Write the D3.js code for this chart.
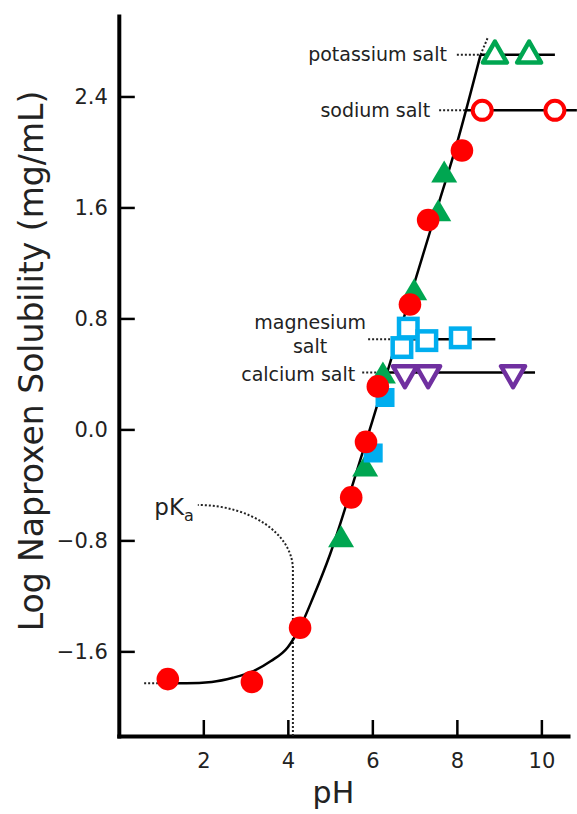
<!DOCTYPE html>
<html>
<head>
<meta charset="utf-8">
<script src="https://cdn.jsdelivr.net/npm/d3@7"></script>
<style>
  body { margin: 0; background: #fff; }
  text { font-family: "DejaVu Sans", Verdana, sans-serif; fill: #222; }
</style>
</head>
<body>
<div id="chart"></div>
<script>
// values: [pH, log solubility]
var acidPoints = [[1.16,-1.80],[3.15,-1.82],[4.29,-1.43],[5.50,-0.49],[5.85,-0.09],[6.13,0.31],[6.89,0.90],[7.32,1.51],[8.12,2.01]];
var greenPoints = [[5.26,-0.77],[5.83,-0.26],[6.25,0.41],[6.99,1.01],[7.56,1.58],[7.70,1.86]];
var bluePoints = [[6.30,0.23],[6.02,-0.17]];
var magnesiumPoints = [[6.85,0.73],[6.70,0.59],[7.29,0.64],[8.08,0.66]];
var calciumPoints = [[6.77,0.38],[7.32,0.38],[9.33,0.38]];
var sodiumPoints = [[8.60,2.30],[10.32,2.30]];
var potassiumPoints = [[8.90,2.72],[9.71,2.72]];

// solubility curve
var curvePoints = [[1.16,-1.83],[1.6,-1.83],[2.2,-1.82],[2.7,-1.79],[3.2,-1.74],[3.6,-1.67],[4.0,-1.57],[4.3,-1.42],[4.6,-1.21],[5.0,-0.90],[5.5,-0.43],[6.0,0.06],[6.5,0.56],[7.0,1.06],[7.5,1.56],[8.0,2.06],[8.56,2.70]];
var curveExtension = [[8.56,2.70],[8.74,2.83]];
var baseLeader = [[0.60,-1.83],[1.16,-1.83]];

// salt plateaus: [from pH, to pH, log solubility]
var plateaus = [[8.56,10.32,2.70],[8.24,10.84,2.30],[6.49,8.91,0.65],[6.23,9.85,0.41]];
// leaders: [from pH, to pH, log solubility]
var leaders = [[8.00,8.56,2.70],[7.58,8.24,2.30],[5.90,6.49,0.65],[5.76,6.23,0.41]];
var saltLabels = [["potassium salt"],["sodium salt"],["magnesium","salt"],["calcium salt"]];

// pKa marker
var pKa = 4.12;
var pKaLabelAt = [1.87,-0.545];
var pKaBend = [[3.12,-0.545],[4.12,-0.754],[4.12,-1.01]];

var phTicks = [2,4,6,8,10];
var logTicks = [-1.6,-0.8,0.0,0.8,1.6,2.4];

var props = { width: 577, height: 814 };

var svg = d3.select("#chart").append("svg")
  .attr("width", props.width)
  .attr("height", props.height);

var scales = {
  x: d3.scaleLinear().domain([0, 10.63]).range([118.8, 568]),
  y: d3.scaleLinear().domain([-2.21, 2.98]).range([736, 16])
};

var red = "#ff0000", green = "#00a651", blue = "#00aeef", purple = "#7030a0";

function triPath(w, h, down){
  var hw = w/2, hh = h/2;
  if(down){
    return "M" + (-hw) + "," + (-hh) + "L" + hw + "," + (-hh) + "L0," + hh + "Z";
  }
  return "M0," + (-hh) + "L" + hw + "," + hh + "L" + (-hw) + "," + hh + "Z";
}

function toXY(d){ return [scales.x(d[0]), scales.y(d[1])]; }

var line = d3.line()
  .x(function(d){ return scales.x(d[0]); })
  .y(function(d){ return scales.y(d[1]); });

// axes
var yAxis = svg.append("g")
  .attr("class","axis y-axis")
  .attr("transform","translate(" + scales.x(0) + ",0)")
  .call(d3.axisLeft(scales.y).tickValues(logTicks).tickFormat(d3.format(".1f"))
    .tickSize(-16).tickSizeOuter(0).tickPadding(11));

var xAxis = svg.append("g")
  .attr("class","axis x-axis")
  .attr("transform","translate(0," + scales.y.range()[0] + ")")
  .call(d3.axisBottom(scales.x).tickValues(phTicks).tickFormat(d3.format("d"))
    .tickSize(-16).tickSizeOuter(0).tickPadding(17));

svg.selectAll(".axis .domain")
  .attr("stroke","#000")
  .attr("stroke-width",4)
  .attr("stroke-linecap","square");
svg.selectAll(".axis .tick line")
  .attr("stroke","#000")
  .attr("stroke-width",2.5);
svg.selectAll(".axis text")
  .attr("font-family","DejaVu Sans, sans-serif")
  .attr("font-size",21)
  .attr("fill","#222");

svg.append("text")
  .attr("transform","translate(43," + ((scales.y.range()[0] + scales.y.range()[1])/2 - 15) + ") rotate(-90)")
  .attr("text-anchor","middle")
  .attr("font-size",33)
  .text("Log Naproxen Solubility (mg/mL)");

svg.append("text")
  .attr("x",(scales.x.range()[0] + scales.x.range()[1])/2 - 10)
  .attr("y",803)
  .attr("text-anchor","middle")
  .attr("font-size",30)
  .text("pH");

// dotted helpers
var dotted = svg.append("g")
  .attr("fill","none")
  .attr("stroke","#222")
  .attr("stroke-width",2)
  .attr("stroke-dasharray","2,2");

dotted.append("path").attr("d", line(baseLeader));
dotted.append("path").attr("d", line(curveExtension));
dotted.selectAll(".leader")
  .data(leaders)
  .enter().append("path")
  .attr("class","leader")
  .attr("d", function(d){ return line([[d[0],d[2]],[d[1],d[2]]]); });

var pk = d3.path();
var a = toXY([pKa, scales.y.domain()[0]]);
pk.moveTo(a[0], a[1]);
var b = toXY(pKaBend[2]);
pk.lineTo(b[0], b[1]);
var c1 = toXY(pKaBend[1]), c2 = toXY(pKaBend[0]), e = toXY(pKaLabelAt);
pk.bezierCurveTo(c1[0], c1[1], c2[0], c2[1], e[0], e[1]);
dotted.append("path").attr("d", pk.toString());

// solid lines
var solid = svg.append("g")
  .attr("fill","none")
  .attr("stroke","#000")
  .attr("stroke-width",2.5);

solid.append("path")
  .attr("d", line.curve(d3.curveMonotoneX)(curvePoints));
line.curve(d3.curveLinear);

solid.selectAll(".plateau")
  .data(plateaus)
  .enter().append("path")
  .attr("class","plateau")
  .attr("d", function(d){ return line([[d[0],d[2]],[d[1],d[2]]]); });

// labels
var labelOffsets = [
  { dx: -10, dy: [6], anchor: "end" },
  { dx: -9, dy: [7], anchor: "end" },
  { dx: -58, dy: [-10, 14], anchor: "middle" },
  { dx: -7, dy: [8], anchor: "end" }
];
saltLabels.forEach(function(lines, i){
  var lead = leaders[i];
  var o = labelOffsets[i];
  var t = svg.append("text")
    .attr("font-size",19)
    .attr("text-anchor",o.anchor);
  lines.forEach(function(s, j){
    t.append("tspan")
      .attr("x", scales.x(lead[0]) + o.dx)
      .attr("y", scales.y(lead[2]) + o.dy[j])
      .text(s);
  });
});

var pkText = svg.append("text")
  .attr("x", scales.x(pKaLabelAt[0]) - 4)
  .attr("y", scales.y(pKaLabelAt[1]) + 10)
  .attr("text-anchor","end")
  .attr("font-size",23);
pkText.append("tspan").text("pK");
pkText.append("tspan").attr("font-size",16).attr("dy",6).text("a");

// open markers
svg.selectAll(".mg-point")
  .data(magnesiumPoints)
  .enter().append("rect")
  .attr("class","mg-point")
  .attr("x", function(d){ return scales.x(d[0]) - 9.25; })
  .attr("y", function(d){ return scales.y(d[1]) - 9.25; })
  .attr("width",18.5).attr("height",18.5)
  .attr("fill","#fff").attr("stroke",blue).attr("stroke-width",4.5);

svg.selectAll(".ca-point")
  .data(calciumPoints)
  .enter().append("path")
  .attr("class","ca-point")
  .attr("transform", function(d){ return "translate(" + toXY(d) + ")"; })
  .attr("d", triPath(24, 21, true))
  .attr("fill","#fff").attr("stroke",purple).attr("stroke-width",4.5)
  .attr("stroke-linejoin","round");

svg.selectAll(".na-point")
  .data(sodiumPoints)
  .enter().append("circle")
  .attr("class","na-point")
  .attr("cx", function(d){ return scales.x(d[0]); })
  .attr("cy", function(d){ return scales.y(d[1]); })
  .attr("r",9.5)
  .attr("fill","#fff").attr("stroke",red).attr("stroke-width",4);

svg.selectAll(".k-point")
  .data(potassiumPoints)
  .enter().append("path")
  .attr("class","k-point")
  .attr("transform", function(d){ return "translate(" + toXY(d) + ")"; })
  .attr("d", triPath(24, 21, false))
  .attr("fill","#fff").attr("stroke",green).attr("stroke-width",4.5)
  .attr("stroke-linejoin","round");

// filled markers
svg.selectAll(".green-point")
  .data(greenPoints)
  .enter().append("path")
  .attr("class","green-point")
  .attr("transform", function(d){ return "translate(" + toXY(d) + ")"; })
  .attr("d", triPath(26, 22, false))
  .attr("fill",green);

svg.selectAll(".blue-point")
  .data(bluePoints)
  .enter().append("rect")
  .attr("class","blue-point")
  .attr("x", function(d){ return scales.x(d[0]) - 9.5; })
  .attr("y", function(d){ return scales.y(d[1]) - 9.5; })
  .attr("width",19).attr("height",19)
  .attr("fill",blue);

svg.selectAll(".acid-point")
  .data(acidPoints)
  .enter().append("circle")
  .attr("class","acid-point")
  .attr("cx", function(d){ return scales.x(d[0]); })
  .attr("cy", function(d){ return scales.y(d[1]); })
  .attr("r",11.3)
  .attr("fill",red);
</script>
</body>
</html>
